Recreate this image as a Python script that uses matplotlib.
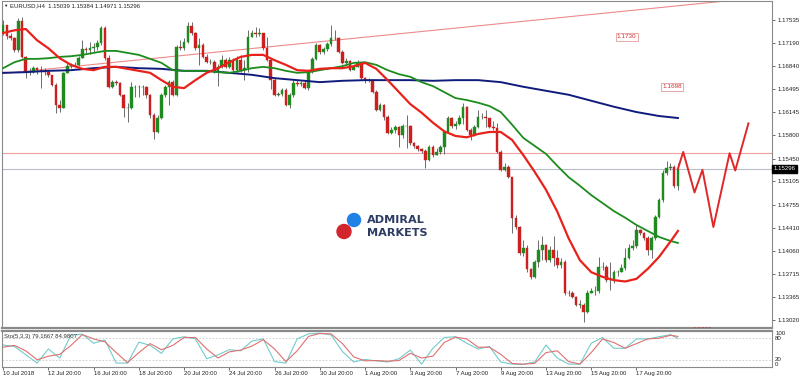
import matplotlib
matplotlib.use("Agg")
import matplotlib.pyplot as plt
from matplotlib.patches import Ellipse
import matplotlib.transforms as mtransforms

plt.rcParams['font.family'] = ['Liberation Sans', 'DejaVu Sans']

# ---------------- data (EURUSD H4) ----------------
first_open = 1.1734
closes = [
    1.1746, 1.1729, 1.1726, 1.1708, 1.1752, 1.1698, 1.1675, 1.1675, 1.1681, 1.1678,
    1.1677, 1.1675, 1.1671, 1.1656, 1.1626, 1.1621, 1.1674, 1.1684, 1.1686, 1.1686,
    1.1696, 1.1710, 1.1708, 1.1711, 1.1713, 1.1719, 1.1741, 1.1696, 1.1653, 1.1660,
    1.1659, 1.1641, 1.1621, 1.1621, 1.1653, 1.1653, 1.1653, 1.1653, 1.1641, 1.1611,
    1.1585, 1.1606, 1.1641, 1.1653, 1.1660, 1.1641, 1.1713, 1.1711, 1.1720, 1.1745,
    1.1734, 1.1711, 1.1716, 1.1698, 1.1690, 1.1690, 1.1675, 1.1683, 1.1693, 1.1683,
    1.1693, 1.1678, 1.1693, 1.1678, 1.1681, 1.1728, 1.1734, 1.1732, 1.1734, 1.1711,
    1.1693, 1.1663, 1.1641, 1.1642, 1.1648, 1.1626, 1.1641, 1.1659, 1.1657, 1.1659,
    1.1651, 1.1675, 1.1695, 1.1716, 1.1705, 1.1710, 1.1717, 1.1726, 1.1726, 1.1705,
    1.1689, 1.1692, 1.1678, 1.1683, 1.1689, 1.1666, 1.1663, 1.1663, 1.1645, 1.1618,
    1.1626, 1.1607, 1.1583, 1.1588, 1.1592, 1.1580, 1.1594, 1.1594, 1.1568, 1.1564,
    1.1559, 1.1556, 1.1543, 1.1562, 1.1550, 1.1555, 1.1562, 1.1585, 1.1606, 1.1594,
    1.1597, 1.1606, 1.1623, 1.1588, 1.1580, 1.1592, 1.1607, 1.1607, 1.1606, 1.1592,
    1.1591, 1.1555, 1.1528, 1.1532, 1.1517, 1.1455, 1.1442, 1.1403, 1.1410, 1.1379,
    1.1367, 1.1389, 1.1407, 1.1415, 1.1392, 1.1407, 1.1395, 1.1385, 1.1389, 1.1343,
    1.1342, 1.1337, 1.1325, 1.1325, 1.1314, 1.1343, 1.1345, 1.1345, 1.1382, 1.1382,
    1.1362, 1.1362, 1.1374, 1.1374, 1.1380, 1.1395, 1.1410, 1.1413, 1.1437, 1.1433,
    1.1425, 1.1407, 1.1425, 1.1457, 1.1483, 1.1523, 1.1531, 1.1532, 1.15039, 1.15296,
]
highs = [
    1.1753, 1.1738, 1.1734, 1.1728, 1.1756, 1.1758, 1.1699, 1.1681, 1.1684, 1.1683,
    1.1684, 1.1681, 1.1678, 1.1669, 1.1659, 1.1633, 1.1675, 1.1689, 1.1689, 1.1690,
    1.1699, 1.1723, 1.1713, 1.1720, 1.1719, 1.1723, 1.1745, 1.1745, 1.1701, 1.1663,
    1.1663, 1.1660, 1.1642, 1.1629, 1.1660, 1.1656, 1.1656, 1.1656, 1.1654, 1.1642,
    1.1614, 1.1611, 1.1644, 1.1656, 1.1663, 1.1663, 1.1716, 1.1723, 1.1726, 1.1750,
    1.1750, 1.1735, 1.1726, 1.1719, 1.1702, 1.1695, 1.1693, 1.1687, 1.1701, 1.1696,
    1.1698, 1.1696, 1.1699, 1.1701, 1.1693, 1.1738, 1.1738, 1.1743, 1.1741, 1.1731,
    1.1728, 1.1696, 1.1666, 1.1645, 1.1651, 1.1651, 1.1644, 1.1663, 1.1663, 1.1662,
    1.1663, 1.1678, 1.1698, 1.1719, 1.1717, 1.1713, 1.1720, 1.1746, 1.1738, 1.1728,
    1.1708, 1.1696, 1.1693, 1.1687, 1.1693, 1.1690, 1.1668, 1.1666, 1.1665, 1.1648,
    1.1629, 1.1627, 1.1611, 1.1592, 1.1595, 1.1594, 1.1597, 1.1611, 1.1595, 1.1570,
    1.1565, 1.1561, 1.1559, 1.1565, 1.1565, 1.1561, 1.1565, 1.1588, 1.1609, 1.1607,
    1.1601, 1.1611, 1.1629, 1.1624, 1.1591, 1.1595, 1.1618, 1.1613, 1.1618, 1.1606,
    1.1601, 1.1598, 1.1558, 1.1539, 1.1535, 1.1517, 1.1460, 1.1443, 1.1422, 1.1415,
    1.1380, 1.1392, 1.1422, 1.1428, 1.1417, 1.1413, 1.1428, 1.1407, 1.1395, 1.1392,
    1.1347, 1.1345, 1.1338, 1.1332, 1.1328, 1.1347, 1.1350, 1.1353, 1.1397, 1.1389,
    1.1385, 1.1389, 1.1377, 1.1377, 1.1386, 1.1410, 1.1417, 1.1422, 1.1445, 1.1439,
    1.1434, 1.1428, 1.1428, 1.1460, 1.1486, 1.1528, 1.1541, 1.1538, 1.1535, 1.15384,
]
lows = [
    1.1731, 1.1725, 1.1723, 1.1705, 1.1705, 1.1696, 1.1666, 1.1671, 1.1674, 1.1672,
    1.1651, 1.1671, 1.1668, 1.1654, 1.1614, 1.1615, 1.1641, 1.1675, 1.1681, 1.1683,
    1.1684, 1.1696, 1.1704, 1.1702, 1.1705, 1.1708, 1.1716, 1.1693, 1.1651, 1.1651,
    1.1656, 1.1639, 1.1607, 1.1600, 1.1620, 1.1638, 1.1638, 1.1641, 1.1636, 1.1606,
    1.1574, 1.1583, 1.1604, 1.1638, 1.1626, 1.1639, 1.1639, 1.1708, 1.1708, 1.1719,
    1.1731, 1.1708, 1.1686, 1.1696, 1.1689, 1.1687, 1.1674, 1.1654, 1.1681, 1.1681,
    1.1681, 1.1677, 1.1675, 1.1675, 1.1663, 1.1675, 1.1729, 1.1728, 1.1729, 1.1708,
    1.1692, 1.1650, 1.1639, 1.1639, 1.1639, 1.1624, 1.1621, 1.1638, 1.1654, 1.1654,
    1.1650, 1.1648, 1.1674, 1.1693, 1.1702, 1.1702, 1.1707, 1.1714, 1.1723, 1.1704,
    1.1687, 1.1686, 1.1677, 1.1678, 1.1684, 1.1663, 1.1659, 1.1660, 1.1644, 1.1616,
    1.1616, 1.1603, 1.1582, 1.1582, 1.1583, 1.1562, 1.1576, 1.1561, 1.1565, 1.1561,
    1.1556, 1.1553, 1.1531, 1.1541, 1.1548, 1.1550, 1.1552, 1.1552, 1.1583, 1.1591,
    1.1589, 1.1595, 1.1597, 1.1586, 1.1573, 1.1579, 1.1591, 1.1604, 1.1592, 1.1591,
    1.1588, 1.1553, 1.1526, 1.1526, 1.1515, 1.1433, 1.1439, 1.1400, 1.1398, 1.1374,
    1.1364, 1.1365, 1.1382, 1.1392, 1.1389, 1.1389, 1.1384, 1.1380, 1.1380, 1.1340,
    1.1338, 1.1335, 1.1323, 1.1320, 1.1299, 1.1313, 1.1342, 1.1340, 1.1342, 1.1377,
    1.1359, 1.1347, 1.1357, 1.1368, 1.1374, 1.1377, 1.1394, 1.1407, 1.1410, 1.1430,
    1.1422, 1.1400, 1.1395, 1.1422, 1.1455, 1.1480, 1.1521, 1.1528, 1.1501, 1.14971,
]

# moving averages: red and green read every 3 bars, navy every 6 bars
ma3_idx = list(range(0, 178, 3)) + [179]
ma_red = [1.1734, 1.1738, 1.1740, 1.1723, 1.1711, 1.1696, 1.1686, 1.1680, 1.1678, 1.1683,
          1.1683, 1.1680, 1.1677, 1.1674, 1.1663, 1.1653, 1.1651, 1.1663, 1.1674, 1.1681,
          1.1690, 1.1698, 1.1701, 1.1701, 1.1693, 1.1686, 1.1678, 1.1677, 1.1680, 1.1681,
          1.1681, 1.1684, 1.1689, 1.1680, 1.1663, 1.1645, 1.1627, 1.1614, 1.1599, 1.1586,
          1.1579, 1.1577, 1.1582, 1.1585, 1.1585, 1.1573, 1.1550, 1.1525, 1.1498, 1.1465,
          1.1425, 1.1392, 1.1374, 1.1367, 1.1362, 1.1360, 1.1364, 1.1379, 1.1397, 1.1420,
          1.1436]
ma_green = [1.1681, 1.1690, 1.1695, 1.1695, 1.1696, 1.1698, 1.1699, 1.1701, 1.1704, 1.1707,
            1.1707, 1.1704, 1.1701, 1.1695, 1.1689, 1.1678, 1.1677, 1.1677, 1.1677, 1.1675,
            1.1674, 1.1677, 1.1681, 1.1683, 1.1681, 1.1677, 1.1674, 1.1675, 1.1678, 1.1681,
            1.1684, 1.1689, 1.1690, 1.1686, 1.1678, 1.1672, 1.1668, 1.1660, 1.1654, 1.1645,
            1.1636, 1.1633, 1.1629, 1.1624, 1.1615, 1.1596, 1.1576, 1.1564, 1.1552, 1.1534,
            1.1517, 1.1504, 1.1490, 1.1478, 1.1466, 1.1456, 1.1445, 1.1436, 1.1427, 1.1421,
            1.1418]
ma6_idx = list(range(0, 175, 6)) + [179]
ma_navy = [1.1674, 1.1675, 1.1677, 1.1678, 1.1681, 1.1683, 1.1681, 1.1680, 1.1677, 1.1677,
           1.1674, 1.1671, 1.1666, 1.1663, 1.1660, 1.1662, 1.1663, 1.1663, 1.1663, 1.1662,
           1.1663, 1.1663, 1.1660, 1.1653, 1.1647, 1.1641, 1.1632, 1.1623, 1.1615, 1.1609,
           1.1606]

# stochastic (5,3,3), read every 3 bars
sto_idx = list(range(0, 178, 3)) + [179]
sto_main = [61, 57, 34, 11, 50, 25, 89, 91, 66, 75,
            11, 11, 69, 60, 38, 78, 84, 78, 23, 34,
            48, 45, 72, 78, 15, 11, 78, 92, 94, 89,
            43, 14, 21, 17, 14, 23, 47, 8, 52, 82,
            84, 66, 50, 57, 14, 8, 7, 14, 61, 25,
            8, 8, 66, 82, 52, 52, 78, 78, 84, 90,
            79.17]
sto_signal = [55, 60, 45, 20, 30, 35, 60, 90, 78, 70,
              40, 12, 40, 65, 48, 60, 82, 82, 50, 25,
              42, 47, 58, 76, 50, 15, 45, 85, 93, 92,
              65, 28, 17, 18, 16, 18, 38, 25, 30, 68,
              83, 78, 55, 55, 35, 10, 8, 10, 40, 45,
              15, 8, 40, 78, 68, 52, 65, 78, 80, 88,
              84.98]

# drawn objects
trend_idx = [0, 195]
trend_px = [1.1673, 1.1784]
resist_level = 1.1553
last_price = 1.15296
zig_idx = [179, 180.4, 183.4, 185.5, 188.4, 192.7, 194.2, 197.7]
zig_px = [1.15296, 1.1555, 1.1494, 1.1528, 1.1442, 1.1553, 1.1527, 1.1598]

price_ticks = [1.17535, 1.17190, 1.16840, 1.16495, 1.16145, 1.15800, 1.15450,
               1.15105, 1.14755, 1.14410, 1.14060, 1.13715, 1.13365, 1.13020]
date_idx = list(range(0, 169, 12))
date_labels = ['10 Jul 2018', '12 Jul 20:00', '16 Jul 20:00', '18 Jul 20:00',
               '20 Jul 20:00', '24 Jul 20:00', '26 Jul 20:00', '30 Jul 20:00',
               '1 Aug 20:00', '3 Aug 20:00', '7 Aug 20:00', '9 Aug 20:00',
               '13 Aug 20:00', '15 Aug 20:00', '17 Aug 20:00']

# ---------------- figure ----------------
W, H = 800, 379
fig = plt.figure(figsize=(W / 100, H / 100), dpi=100)
fig.patch.set_facecolor('white')


def fbox(x0, y0, x1, y1):
    return [x0 / W, 1 - y1 / H, (x1 - x0) / W, (y1 - y0) / H]


ax = fig.add_axes(fbox(2, 1, 772, 328))
sax = fig.add_axes(fbox(2, 331, 772, 367))
xmin, xmax = -0.3, 203.95
for a in (ax, sax):
    a.set_xlim(xmin, xmax)
    for s in a.spines.values():
        s.set_color('#8a8a8a')
        s.set_linewidth(0.8)
ax.spines['bottom'].set_linewidth(1.6)
sax.spines['top'].set_linewidth(1.6)
ax.set_ylim(1.12900, 1.17821)

# candles
n = len(closes)
opens = [first_open] + closes[:-1]
idx = list(range(n))
up_col, dn_col = '#1f8a1f', '#cc2020'
cols = [up_col if c >= o else dn_col for o, c in zip(opens, closes)]
lo = [min(l, o, c) for l, o, c in zip(lows, opens, closes)]
hi = [max(h, o, c) for h, o, c in zip(highs, opens, closes)]
ax.vlines(idx, lo, hi, color='#555555', linewidth=0.6, zorder=2)
bottoms = [min(o, c) for o, c in zip(opens, closes)]
heights = [max(abs(c - o), 0.00004) for o, c in zip(opens, closes)]
ax.bar(idx, heights, bottom=bottoms, width=0.7, color=cols, edgecolor=cols,
       linewidth=0.3, zorder=3)

# lines
ax.axhline(resist_level, color='#f2a0a0', linewidth=0.8, zorder=1)
ax.axhline(last_price, color='#b8bccb', linewidth=0.8, zorder=1)
ax.plot(trend_idx, trend_px, color='#ee8a8a', linewidth=0.8, zorder=1)
ax.plot(ma6_idx, ma_navy, color='#101c7c', linewidth=1.4, zorder=4)
ax.plot(ma3_idx, ma_green, color='#1c8c1c', linewidth=1.3, zorder=4,
        solid_joinstyle='round')
ax.plot(ma3_idx, ma_red, color='#e8221b', linewidth=1.6, zorder=5,
        solid_joinstyle='round')
ax.plot(zig_idx, zig_px, color='#e02828', linewidth=1.4, zorder=5)

# price labels on the right
ax.yaxis.tick_right()
ax.set_yticks(price_ticks)
ax.set_yticklabels(['%.5f' % p for p in price_ticks])
ax.tick_params(axis='y', length=2.5, width=0.6, color='#555555', pad=1.5,
               labelsize=4.4, labelcolor='#222222')
ax.set_xticks([])
mixed = mtransforms.blended_transform_factory(ax.transAxes, ax.transData)
ax.text(1.0015, last_price, '1.15296', transform=mixed, ha='left', va='center',
        fontsize=4.4, color='white', clip_on=False, zorder=10,
        bbox=dict(boxstyle='square,pad=0.25', facecolor='black', edgecolor='black'))

# title
ax.text(0.002, 0.986, '\u25bc', transform=ax.transAxes, fontsize=3.2,
        ha='left', va='center', color='#222222')
ax.text(0.011, 0.986, 'EURUSD,H4  1.15039 1.15384 1.14971 1.15296',
        transform=ax.transAxes, fontsize=4.3, ha='left', va='center', color='#222222')

# level labels
box = dict(boxstyle='square,pad=0.2', facecolor='white', edgecolor='#e39a9a', linewidth=0.6)
ax.text(162.8, 1.1728, '1.1730', fontsize=4.6, color='#d03030', ha='left', va='center', bbox=box)
ax.text(174.8, 1.1653, '1.1698', fontsize=4.6, color='#d03030', ha='left', va='center', bbox=box)
ax.text(182.8, 1.12915, '1.1301', fontsize=4.6, color='#c03030', ha='left', va='top',
        clip_on=True)

# watermark logo
fig.add_artist(Ellipse((354 / W, 1 - 220 / H), 13 / W, 13 / H,
                       transform=fig.transFigure, color='#1f80e6', zorder=6))
fig.add_artist(Ellipse((344 / W, 1 - 231.5 / H), 14 / W, 14 / H,
                       transform=fig.transFigure, color='#d3262c', zorder=6))
fig.text(367 / W, 1 - 220 / H, 'ADMIRAL', fontsize=8.1, fontweight='bold',
         family='DejaVu Sans', color='#2c3c64', ha='left', va='center')
fig.text(367 / W, 1 - 232.5 / H, 'MARKETS', fontsize=8.1, fontweight='bold',
         family='DejaVu Sans', color='#2c3c64', ha='left', va='center')

# stochastic panel
sax.set_ylim(0, 100)
sax.axhline(80, color='#c8c8c8', linewidth=0.6, linestyle=(0, (2, 2)))
sax.axhline(20, color='#c8c8c8', linewidth=0.6, linestyle=(0, (2, 2)))
sax.plot(sto_idx, sto_main, color='#72cccc', linewidth=0.8, solid_joinstyle='round')
sax.plot(sto_idx, sto_signal, color='#e07070', linewidth=0.8, solid_joinstyle='round')
sax.text(0.002, 0.86, 'Sto(5,3,3) 79.1667 84.9807', transform=sax.transAxes,
         fontsize=4.3, ha='left', va='center', color='#333333')
sax.set_yticks([])
smixed = mtransforms.blended_transform_factory(sax.transAxes, sax.transData)
for v, lab, va in [(100, '100', 'top'), (80, '80', 'center'), (20, '20', 'center'), (0, '0', 'bottom')]:
    sax.text(1.004, v, lab, transform=smixed, fontsize=4.4, ha='left', va=va,
             color='#222222', clip_on=False)
sax.set_xticks(date_idx)
sax.set_xticklabels(date_labels, ha='left')
sax.tick_params(axis='x', length=2, width=0.6, color='#555555', pad=1.2,
                labelsize=4.3, labelcolor='#222222')

fig.savefig('out.png', dpi=100, facecolor='white')
